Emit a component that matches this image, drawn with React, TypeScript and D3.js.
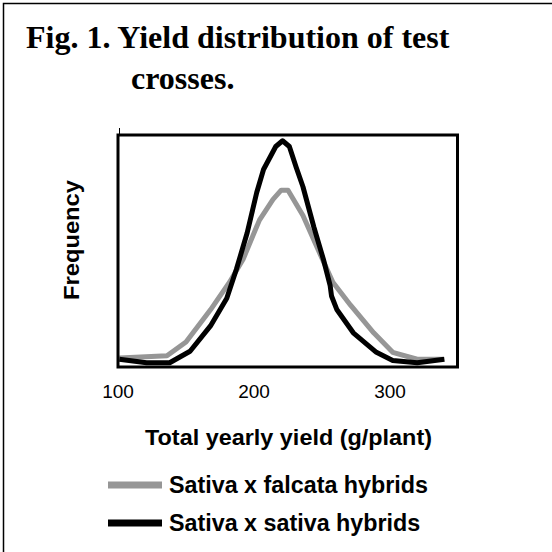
import React from "react";
import { scaleLinear, line, curveLinear } from "d3";

// yield (g/plant) -> relative frequency
const falcataX = [101, 136, 150, 168, 182, 192, 204, 214, 220, 225, 236, 248, 258, 271, 288, 302, 320, 339];
const falcataY = [0.03, 0.04, 0.1, 0.24, 0.36, 0.46, 0.63, 0.72, 0.76, 0.76, 0.65, 0.49, 0.36, 0.26, 0.14, 0.055, 0.025, 0.025];

const sativaX = [101, 121, 138, 153, 168, 180, 187, 195, 202, 207, 216, 221, 226, 231, 236, 244, 251, 256, 257, 261, 273, 290, 302, 320, 340];
const sativaY = [0.025, 0.01, 0.01, 0.06, 0.17, 0.29, 0.415, 0.575, 0.75, 0.85, 0.95, 0.975, 0.95, 0.86, 0.775, 0.6, 0.46, 0.345, 0.3, 0.24, 0.14, 0.055, 0.02, 0.01, 0.025];

const xTicks = [100, 200, 300];

const series = [
  { name: "Sativa x falcata hybrids", xs: falcataX, ys: falcataY, color: "#969696" },
  { name: "Sativa x sativa hybrids", xs: sativaX, ys: sativaY, color: "#000000" },
];

export default function App() {
  const x = scaleLinear().domain([100, 350]).range([118, 458]);
  const y = scaleLinear().domain([0, 1]).range([365, 135]);

  const path = line<[number, number]>()
    .x((d) => x(d[0]))
    .y((d) => y(d[1]))
    .curve(curveLinear);

  const sans = "'Liberation Sans', Arial, sans-serif";
  const serif = "'Liberation Serif', 'Times New Roman', serif";

  return (
    <svg width={552} height={552} style={{ position: "absolute", left: 0, top: 0 }}>
      <rect x={0} y={0} width={552} height={552} fill="#fff" />
      <rect x={3.5} y={3.5} width={560} height={560} fill="none" stroke="#000" strokeWidth={1.5} />

      <text x={26} y={48} fontFamily={serif} fontWeight="bold" fontSize={32}>
        Fig. 1. Yield distribution of test
      </text>
      <text x={131} y={89} fontFamily={serif} fontWeight="bold" fontSize={32}>
        crosses.
      </text>

      {/* small y-axis tick above box */}
      <line x1={119.5} x2={119.5} y1={128} y2={136} stroke="#000" strokeWidth={1} />

      {series.map((s) => (
        <path
          key={s.name}
          d={path(s.xs.map((v, i) => [v, s.ys[i]] as [number, number])) ?? ""}
          fill="none"
          stroke={s.color}
          strokeWidth={5}
          strokeLinejoin="round"
        />
      ))}

      <rect x={118} y={135} width={339.5} height={232} fill="none" stroke="#000" strokeWidth={3} />

      {xTicks.map((t) => (
        <text key={t} x={x(t)} y={398} textAnchor="middle" fontFamily={sans} fontSize={19}>
          {t}
        </text>
      ))}

      <text
        transform="translate(79,240) rotate(-90)"
        textAnchor="middle"
        fontFamily={sans}
        fontWeight="bold"
        fontSize={22}
        textLength={120}
        lengthAdjust="spacingAndGlyphs"
      >
        Frequency
      </text>

      <text
        x={145}
        y={445}
        fontFamily={sans}
        fontWeight="bold"
        fontSize={22}
        textLength={287}
        lengthAdjust="spacingAndGlyphs"
      >
        Total yearly yield (g/plant)
      </text>

      {series.map((s, i) => (
        <g key={s.name} transform={`translate(0,${485 + i * 38})`}>
          <line x1={108} x2={162} y1={0} y2={0} stroke={s.color} strokeWidth={7} />
          <text x={169} y={8} fontFamily={sans} fontWeight="bold" fontSize={23.3}>
            {s.name}
          </text>
        </g>
      ))}
    </svg>
  );
}
